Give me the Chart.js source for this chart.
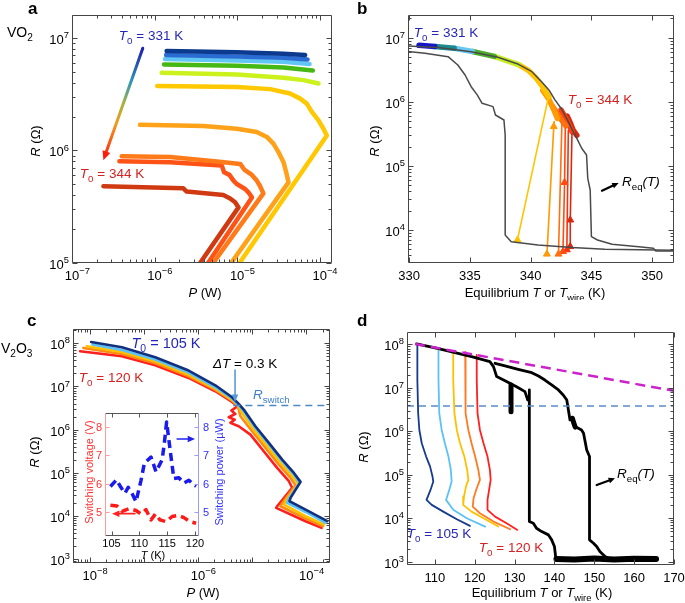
<!DOCTYPE html>
<html>
<head>
<meta charset="utf-8">
<script src="https://cdn.jsdelivr.net/npm/chart.js@4.4.1/dist/chart.umd.min.js"></script>
<style>
  body { margin: 0; background: #fff; width: 685px; height: 603px; overflow: hidden; position: relative; }
  canvas { position: absolute; }
</style>
</head>
<body>
<canvas id="ca" width="342" height="300" style="left:0;top:0"></canvas>
<canvas id="cb" width="343" height="300" style="left:342px;top:0"></canvas>
<canvas id="cc" width="342" height="303" style="left:0;top:300px"></canvas>
<canvas id="cd" width="343" height="303" style="left:342px;top:300px"></canvas>
<canvas id="ci" width="150" height="162" style="left:78px;top:405px"></canvas>
<script>
const FONT = '"Liberation Sans", Arial, Helvetica, sans-serif';
const BLUE_TXT = '#2626b8';
const RED_TXT = '#d42222';

// ---------- a: VO2, R vs P, T0 = 331 K ... 344 K ----------
const aXTicks = [1e-7, 1e-6, 1e-5, 1e-4];
const aYTicks = [1e5, 1e6, 1e7];
const aColors = ['#0c3a8e', '#2b6cd2', '#62c6f4', '#46b814', '#cbf21c', '#ffc800', '#ffa21a', '#ff7a18', '#ff5216', '#d03a12'];
const aP1 = [1.40e-6, 9.9e-6, 3.65e-5, 6.67e-5];
const aR1 = [7.66e6, 7.45e6, 7.25e6, 7.05e6];
const aP2 = [1.38e-6, 9.9e-6, 3.65e-5, 7.13e-5];
const aR2 = [7.05e6, 6.86e6, 6.67e6, 6.45e6];
const aP3 = [1.34e-6, 9.9e-6, 3.65e-5, 7.53e-5];
const aR3 = [6.49e6, 6.31e6, 6.15e6, 5.86e6];
const aP4 = [1.30e-6, 9.9e-6, 3.65e-5, 8.26e-5];
const aR4 = [5.82e6, 5.66e6, 5.47e6, 5.14e6];
const aP5 = [1.22e-6, 9.9e-6, 3.65e-5, 6.37e-5, 9.68e-5];
const aR5 = [4.90e6, 4.74e6, 4.43e6, 4.22e6, 3.94e6];
const aP6 = [1.08e-6, 9.9e-6, 2.51e-5, 4.38e-5, 5.81e-5, 6.98e-5, 8.04e-5, 9.68e-5, 1.11e-4, 1.22e-4, 1.04e-5];
const aR6 = [3.75e6, 3.67e6, 3.51e6, 3.21e6, 2.89e6, 2.61e6, 2.20e6, 1.85e6, 1.56e6, 1.36e6, 9.7e4];
const aP7 = [6.67e-7, 3.91e-6, 9.9e-6, 1.73e-5, 2.29e-5, 2.75e-5, 3.17e-5, 3.65e-5, 3.93e-5, 4.19e-5, 8.22e-6];
const aR7 = [1.69e6, 1.65e6, 1.56e6, 1.46e6, 1.32e6, 1.15e6, 9.67e5, 7.87e5, 6.41e5, 5.21e5, 9.7e4];
const aP8 = [4.0e-7, 1.54e-6, 5.68e-6, 1.09e-5, 1.22e-5, 1.51e-5, 1.73e-5, 1.90e-5, 2.08e-5, 4.98e-6];
const aR8 = [8.89e5, 8.77e5, 7.97e5, 7.60e5, 6.77e5, 6.06e5, 5.40e5, 4.81e5, 4.16e5, 9.7e4];
const aP9 = [3.75e-7, 1.54e-6, 6.52e-6, 6.95e-6, 8.07e-6, 9.04e-6, 9.9e-6, 1.25e-5, 1.37e-5, 1.51e-5, 4.32e-6];
const aR9 = [8.03e5, 7.87e5, 7.35e5, 6.41e5, 6.07e5, 5.40e5, 5.04e5, 4.55e5, 4.25e5, 3.83e5, 9.7e4];
const aP10 = [2.40e-7, 2.23e-6, 2.45e-6, 6.82e-6, 8.22e-6, 9.46e-6, 1.04e-5, 3.46e-6];
const aR10 = [4.81e5, 4.61e5, 4.31e5, 4.02e5, 3.75e5, 3.46e5, 3.12e5, 9.7e4];
const aArrowP = [7.2e-7, 2.4e-7];
const aArrowR = [8.1e6, 8.2e5];

// ---------- b: VO2, R vs equilibrium T ----------
const bXTicks = [330, 335, 340, 345, 350];
const bYTicks = [1e4, 1e5, 1e6, 1e7];
const bUpT = [329.6, 332.4, 335.1, 337.3, 339.0, 340.1, 340.9, 341.5, 342.0, 342.6, 343.1, 343.5, 343.8, 344.2, 344.6, 344.7, 344.9, 345.0, 345.5, 346.7, 348.9, 350.1, 350.3, 351.9];
const bUpR = [7.50e6, 7.06e6, 6.05e6, 4.94e6, 3.84e6, 2.95e6, 2.06e6, 1.53e6, 1.07e6, 7.45e5, 4.90e5, 3.42e5, 2.69e5, 1.88e5, 1.48e5, 6.40e4, 4.2e4, 7.87e3, 6.97e3, 5.97e3, 5.49e3, 5.17e3, 4.70e3, 4.70e3];
const bLoT = [329.6, 331.3, 333.2, 334.0, 334.6, 335.1, 335.6, 336.0, 336.9, 337.1, 337.8, 337.9, 337.9, 338.4, 340.6, 343.4, 346.1, 351.9];
const bLoR = [6.19e6, 5.70e6, 5.06e6, 3.75e6, 2.62e6, 1.72e6, 1.28e6, 9.46e5, 8.40e5, 6.22e5, 5.20e5, 3.03e5, 8.36e3, 6.57e3, 5.83e3, 5.30e3, 4.99e3, 4.81e3];
const bSegColors = ['#1616c8', '#1a8a8e', '#68c8f2', '#4aae28', '#c6ee1e', '#ffc400', '#ff9a00', '#ff7010', '#ff4010', '#d82810'];
const bSegT = [[330.8, 332.1], [332.1, 333.7], [333.7, 335.2], [335.2, 337.0], [337.0, 339.0], [339.0, 339.8, 340.4, 341.0, 341.5],
  [341.0, 341.5, 341.9, 342.2], [341.8, 342.2, 342.6, 342.9], [342.5, 342.9, 343.2, 343.4], [343.0, 343.3, 343.5, 343.8]];
const bSegR = [[7.6e6, 7.3e6], [7.3e6, 6.85e6], [6.85e6, 6.1e6], [6.1e6, 5.1e6], [5.1e6, 3.8e6], [3.8e6, 3.1e6, 2.4e6, 1.7e6, 1.2e6],
  [1.5e6, 1.1e6, 7.5e5, 5.5e5], [8.5e5, 6.5e5, 5.0e5, 4.2e5], [7.5e5, 5.5e5, 4.2e5, 3.4e5], [6.0e5, 4.5e5, 3.6e5, 3.0e5]];
const bDropColors = ['#ffc400', '#ff9a00', '#ff7010', '#ff4a10', '#f03410', '#d82810'];
const bDropT = [[341.47, 338.91], [341.94, 341.9, 341.34], [342.57, 342.29], [342.85, 342.79, 342.66], [343.1, 342.98], [343.4, 343.26, 343.26]];
const bDropR = [[1.2e6, 7.0e3], [4.9e5, 4.1e5, 4.2e3], [4.6e5, 4.2e3], [3.86e5, 5.5e4, 4.6e3], [3.6e5, 4.9e3], [3.2e5, 1.43e4, 5.5e3]];
const bArrowT = [345.87, 347.24];
const bArrowR = [4.1e4, 5.4e4];

// ---------- c: V2O3, R vs P, T0 = 105 K ... 120 K ----------
const cXTicks = [1e-8, 1e-6, 1e-4];
const cYTicks = [1e3, 1e4, 1e5, 1e6, 1e7, 1e8];
const cColors = ['#13307f', '#5cc2f5', '#ffc000', '#ff8a10', '#ff1e1e'];
const cP1 = [1.06e-8, 3.92e-8, 1.62e-7, 6.71e-7, 2.09e-6, 4.26e-6, 5.66e-6, 7.01e-6, 1.15e-5, 2.04e-5, 3.60e-5, 5.92e-5, 7.86e-5, 5.13e-5, 4.91e-5, 9.73e-5, 2.45e-4];
const cR1 = [1.07e8, 8.07e7, 4.74e7, 2.33e7, 1.06e7, 5.61e6, 3.93e6, 2.90e6, 1.19e6, 4.90e5, 2.01e5, 9.89e4, 6.12e4, 2.61e4, 2.18e4, 1.40e4, 7.50e3];
const cP2 = [1.12e-8, 3.92e-8, 1.62e-7, 6.71e-7, 2.09e-6, 4.26e-6, 5.51e-6, 7.01e-6, 1.15e-5, 2.04e-5, 3.60e-5, 5.92e-5, 7.53e-5, 4.64e-5, 4.45e-5, 9.73e-5, 2.28e-4];
const cR2 = [9.31e7, 7.01e7, 4.18e7, 2.09e7, 9.56e6, 5.23e6, 3.79e6, 2.66e6, 1.09e6, 4.49e5, 1.84e5, 9.05e4, 5.80e4, 2.38e4, 1.99e4, 1.23e4, 6.86e3];
const cP3 = [8.80e-9, 3.92e-8, 1.62e-7, 6.71e-7, 2.09e-6, 4.26e-6, 5.43e-6, 6.53e-6, 1.07e-5, 1.90e-5, 3.35e-5, 5.51e-5, 7.11e-5, 4.14e-5, 3.92e-5, 9.73e-5, 2.12e-4];
const cR3 = [8.51e7, 6.30e7, 3.83e7, 1.88e7, 8.90e6, 4.95e6, 3.66e6, 2.43e6, 9.98e5, 4.10e5, 1.69e5, 8.28e4, 5.50e4, 2.18e4, 1.82e4, 9.79e3, 6.28e3];
const cP4 = [7.63e-9, 3.92e-8, 1.62e-7, 6.71e-7, 2.09e-6, 4.26e-6, 5.43e-6, 6.08e-6, 1.00e-5, 1.77e-5, 3.12e-5, 5.13e-5, 6.34e-5, 3.60e-5, 3.35e-5, 9.73e-5, 2.04e-4];
const cR4 = [7.80e7, 5.66e7, 3.44e7, 1.72e7, 8.29e6, 4.69e6, 3.53e6, 2.03e6, 9.14e5, 3.75e5, 1.54e5, 7.57e4, 5.12e4, 1.99e4, 1.67e4, 8.65e3, 5.74e3];
const cP5 = [6.62e-9, 3.92e-8, 1.62e-7, 6.71e-7, 2.09e-6, 4.26e-6, 5.35e-6, 4.14e-6, 4.91e-6, 3.70e-6, 4.78e-6, 3.97e-6, 5.66e-6, 9.31e-6, 1.64e-5, 2.90e-5, 4.78e-5, 5.51e-5, 2.90e-5, 2.78e-5, 9.73e-5, 1.92e-4];
const cR5 = [6.53e7, 5.00e7, 3.09e7, 1.57e7, 7.72e6, 4.37e6, 3.47e6, 2.75e6, 2.30e6, 1.93e6, 1.70e6, 1.43e6, 1.19e6, 7.64e5, 3.14e5, 1.29e5, 6.34e4, 4.44e4, 1.67e4, 1.53e4, 7.50e3, 5.25e3];
const cSwitchP = [4.5e-6, 3e-4];
const cSwitchR = [3.6e6, 3.6e6];
const cArrowP = [4.84e-6, 4.84e-6];
const cArrowR = [2.4e7, 4.4e6];

// inset of c: switching voltage (V) and switching power (uW) vs T (K)
const iXTicks = [105, 110, 115, 120];
const iYTicks = [5, 6, 7, 8];
const iPowT = [104.8, 105.9, 106.6, 107.4, 108.0, 108.8, 109.4, 110.3, 110.9, 112.1, 113.0, 114.1, 114.5, 114.9, 115.6, 116.2, 117.1, 118.0, 118.9, 119.8, 120.2];
const iPow = [5.90, 6.14, 5.90, 5.66, 5.87, 5.61, 5.36, 6.12, 6.72, 6.94, 6.42, 6.85, 7.45, 8.18, 7.09, 6.18, 6.21, 6.02, 6.12, 5.97, 5.91];
const iVoltT = [104.8, 106.0, 106.9, 108.2, 109.4, 110.3, 111.2, 112.1, 112.9, 113.7, 114.8, 115.9, 117.1, 118.0, 119.1, 120.2];
const iVolt = [5.24, 5.21, 5.02, 5.12, 5.05, 4.93, 5.08, 4.72, 4.93, 4.72, 4.66, 4.84, 4.88, 4.80, 4.66, 4.60];
const iArrowBlueT = [116.8, 120.0];
const iArrowBlueP = [7.58, 7.58];
const iArrowRedT = [109.2, 105.1];
const iArrowRedV = [4.94, 4.94];

// ---------- d: V2O3, R vs equilibrium T ----------
const dXTicks = [110, 120, 130, 140, 150, 160, 170];
const dYTicks = [1e3, 1e4, 1e5, 1e6, 1e7, 1e8];
const dColors = ['#163a8e', '#5cc2f5', '#ffc000', '#ff7a20', '#ff2020'];
const dT1 = [105.6, 105.6, 105.8, 106.1, 106.7, 107.8, 108.8, 109.4, 109.6, 108.9, 107.9, 109.2, 112.1, 115.5, 118.8];
const dR1 = [1.02e8, 1.51e7, 2.59e6, 1.07e6, 5.30e5, 2.62e5, 1.54e5, 9.08e4, 6.97e4, 4.48e4, 2.64e4, 2.03e4, 1.42e4, 9.49e3, 6.67e3];
const dT2 = [110.9, 110.9, 111.1, 111.7, 112.5, 113.4, 114.0, 114.2, 113.6, 112.8, 114.6, 118.0, 122.6];
const dR2 = [7.14e7, 1.51e7, 2.59e6, 1.07e6, 5.30e5, 2.62e5, 1.29e5, 6.97e4, 4.48e4, 2.64e4, 1.56e4, 1.00e4, 6.43e3];
const dT3 = [114.6, 114.6, 114.9, 115.5, 116.3, 117.4, 118.1, 118.4, 117.8, 117.3, 117.1, 119.2, 122.2, 125.9];
const dR3 = [6.43e7, 1.51e7, 2.59e6, 1.07e6, 5.30e5, 2.62e5, 1.29e5, 7.61e4, 5.35e4, 3.15e4, 2.03e4, 1.42e4, 1.00e4, 6.43e3];
const dT4 = [117.6, 117.6, 117.8, 118.4, 119.2, 120.1, 120.9, 121.3, 120.5, 119.7, 119.5, 121.3, 124.7, 128.9];
const dR4 = [6.66e7, 1.51e7, 2.59e6, 1.07e6, 5.30e5, 2.62e5, 1.29e5, 7.61e4, 4.90e4, 2.88e4, 1.85e4, 1.30e4, 8.38e3, 5.58e3];
const dT5 = [120.5, 120.5, 120.7, 121.3, 122.2, 123.2, 123.8, 124.0, 123.6, 123.2, 123.2, 125.1, 128.0, 130.7];
const dR5 = [5.69e7, 1.51e7, 2.59e6, 1.07e6, 5.30e5, 2.62e5, 1.29e5, 7.61e4, 4.48e4, 2.64e4, 1.56e4, 1.09e4, 7.67e3, 5.39e3];
const dCoolT = [105.4, 110.9, 119.2, 123.8, 124.7, 125.5, 127.6, 130.5, 132.6, 133.3, 133.7, 133.7, 133.7, 134.7, 135.5, 136.8, 138.5, 139.3, 140.0, 140.3, 141.0];
const dCoolR = [1.02e8, 7.94e7, 5.20e7, 4.00e7, 3.07e7, 1.81e7, 1.46e7, 1.06e7, 8.17e6, 5.25e6, 5.07e6, 8.91e6, 8.38e3, 7.67e3, 5.89e3, 4.93e3, 4.14e3, 3.18e3, 2.23e3, 1.31e3, 1.10e3];
const dHeatT = [125.1, 127.6, 130.9, 134.3, 136.0, 137.6, 139.3, 141.0, 142.2, 143.1, 143.5, 143.9, 144.7, 145.2, 146.0, 146.8, 147.3, 148.1, 148.8, 148.8, 149.8, 150.6, 151.4, 152.7, 154.4];
const dHeatR = [3.66e7, 3.18e7, 2.66e7, 2.23e7, 1.87e7, 1.51e7, 1.16e7, 8.91e6, 6.84e6, 5.25e6, 3.09e6, 1.82e6, 1.82e6, 1.28e6, 1.17e6, 1.07e6, 9.0e5, 3.72e5, 2.62e5, 3.18e3, 2.66e3, 2.23e3, 1.71e3, 1.31e3, 1.10e3];
const dFloorT = [140.5, 145.0, 150.0, 155.0, 160.0, 165.5];
const dFloorR = [1.15e3, 1.12e3, 1.18e3, 1.13e3, 1.17e3, 1.15e3];
const dBarT = [129.1, 129.1];
const dBarR = [1.16e7, 2.83e6];
const dBlobT = [144.5, 144.8, 145.2];
const dBlobR = [2.0e6, 1.6e6, 1.25e6];
const dFitT = [105, 170];
const dFitR = [1.02e8, 8.5e6];
const dSwitchT = [103, 170];
const dSwitchR = [3.8e6, 3.8e6];
const dArrowT = [150.6, 155.2];
const dArrowR = [5.8e4, 8.3e4];

// ---------- helpers ----------
function pts(xs, ys) { return xs.map((x, i) => ({ x: x, y: ys[i] })); }

function line(xs, ys, color, width, extra) {
  return Object.assign({
    data: pts(xs, ys), borderColor: color, backgroundColor: color, borderWidth: width,
    pointRadius: 0, fill: false, tension: 0, clip: 0,
    borderCapStyle: 'round', borderJoinStyle: 'round'
  }, extra || {});
}

// segs: [[text, flags]] flags: i italic, B bold, s subscript, u superscript
function rich(ctx, segs, x, y, size, color, align, rot) {
  ctx.save();
  ctx.translate(x, y);
  if (rot) ctx.rotate(rot);
  ctx.fillStyle = color;
  ctx.textBaseline = 'alphabetic';
  ctx.textAlign = 'left';
  const parts = segs.map(([t, f]) => {
    f = f || '';
    const small = f.includes('s') || f.includes('u');
    const s = small ? size * 0.72 : size;
    const font = (f.includes('i') ? 'italic ' : '') + (f.includes('B') ? 'bold ' : '') + s + 'px ' + FONT;
    ctx.font = font;
    return { t, font, w: ctx.measureText(t).width, dy: f.includes('s') ? size * 0.28 : f.includes('u') ? -size * 0.45 : 0 };
  });
  const W = parts.reduce((a, p) => a + p.w, 0);
  let cx = 0;
  if (align === 'center') cx = -W / 2;
  else if (align === 'right') cx = -W;
  else if (align === 'first') cx = -parts[0].w / 2;
  parts.forEach(p => { ctx.font = p.font; ctx.fillText(p.t, cx, p.dy); cx += p.w; });
  ctx.restore();
}

function arrow(ctx, x1, y1, x2, y2, stroke, fillCol, w, head) {
  const ang = Math.atan2(y2 - y1, x2 - x1);
  ctx.save();
  ctx.strokeStyle = stroke; ctx.fillStyle = fillCol; ctx.lineWidth = w; ctx.lineCap = 'round';
  ctx.beginPath();
  ctx.moveTo(x1, y1);
  ctx.lineTo(x2 - Math.cos(ang) * head * 0.7, y2 - Math.sin(ang) * head * 0.7);
  ctx.stroke();
  ctx.beginPath();
  ctx.moveTo(x2, y2);
  ctx.lineTo(x2 - head * Math.cos(ang - 0.42), y2 - head * Math.sin(ang - 0.42));
  ctx.lineTo(x2 - head * Math.cos(ang + 0.42), y2 - head * Math.sin(ang + 0.42));
  ctx.closePath();
  ctx.fill();
  ctx.restore();
}

function logMarks(min, max) {
  const maj = [], mnr = [];
  for (let n = Math.floor(Math.log10(min)); n <= Math.ceil(Math.log10(max)); n++) {
    for (let k = 1; k <= 9; k++) {
      const v = k * Math.pow(10, n);
      if (v >= min * 0.999 && v <= max * 1.001) (k === 1 ? maj : mnr).push(v);
    }
  }
  return { maj, mnr };
}

function expo(v) {
  const e = Math.round(Math.log10(v));
  return (e < 0 ? '\u2212' : '') + Math.abs(e);
}

function drawAxes(chart, xTicks, yTicks) {
  const { ctx, chartArea: a } = chart;
  const x = chart.scales.x, y = chart.scales.y;
  const xLog = x.type === 'logarithmic', yLog = y.type === 'logarithmic';
  const xm = xLog ? logMarks(x.min, x.max) : { maj: xTicks, mnr: [] };
  const ym = yLog ? logMarks(y.min, y.max) : { maj: yTicks, mnr: [] };
  const L = a.left + 0.5, R = a.right - 0.5, T = a.top + 0.5, B = a.bottom - 0.5;
  ctx.save();
  ctx.strokeStyle = '#454545';
  ctx.lineWidth = 1;
  ctx.beginPath();
  ctx.rect(L, T, R - L, B - T);
  const tx = (v, len) => { const p = Math.round(x.getPixelForValue(v)) + 0.5; ctx.moveTo(p, B); ctx.lineTo(p, B - len); ctx.moveTo(p, T); ctx.lineTo(p, T + len); };
  const ty = (v, len) => { const p = Math.round(y.getPixelForValue(v)) + 0.5; ctx.moveTo(L, p); ctx.lineTo(L + len, p); ctx.moveTo(R, p); ctx.lineTo(R - len, p); };
  xm.maj.forEach(v => tx(v, 5)); xm.mnr.forEach(v => tx(v, 3));
  ym.maj.forEach(v => ty(v, 5)); ym.mnr.forEach(v => ty(v, 3));
  ctx.stroke();
  ctx.restore();
  xTicks.forEach(v => {
    const p = x.getPixelForValue(v);
    if (xLog) rich(ctx, [['10'], [expo(v), 'u']], p, a.bottom + 17, 13, '#000', 'first');
    else rich(ctx, [[String(v)]], p, a.bottom + 17, 13, '#000', 'center');
  });
  yTicks.forEach(v => {
    const p = y.getPixelForValue(v);
    rich(ctx, [['10'], [expo(v), 'u']], a.left - 3, p + 6, 13, '#000', 'right');
  });
}

function sp(chart, xv, yv, yId) {
  return [chart.scales.x.getPixelForValue(xv), chart.scales[yId || 'y'].getPixelForValue(yv)];
}

function makeChart(id, datasets, xs, ys, pad, after, extraScales, before) {
  const scales = { x: Object.assign({ display: false }, xs), y: Object.assign({ display: false }, ys) };
  Object.assign(scales, extraScales || {});
  return new Chart(document.getElementById(id), {
    type: 'line',
    data: { datasets: datasets },
    options: {
      responsive: false, animation: false, events: [],
      layout: { padding: pad },
      plugins: { legend: { display: false }, tooltip: { enabled: false } },
      scales: scales
    },
    plugins: [{ id: 'deco_' + id, afterDraw: after, beforeDatasetsDraw: before || (() => {}) }]
  });
}

// ---------- panel a ----------
const aSeries = [[aP1, aR1], [aP2, aR2], [aP3, aR3], [aP4, aR4], [aP5, aR5], [aP6, aR6], [aP7, aR7], [aP8, aR8], [aP9, aR9], [aP10, aR10]];
makeChart('ca',
  aSeries.map((s, i) => line(s[0], s[1], aColors[i], 4.5)),
  { type: 'logarithmic', min: 1e-7, max: 1.41e-4 },
  { type: 'logarithmic', min: 1e5, max: 1.6e7 },
  { left: 72, top: 15, right: 10, bottom: 37 },
  function (chart) {
    const ctx = chart.ctx;
    drawAxes(chart, aXTicks, aYTicks);
    const [x1, y1] = sp(chart, aArrowP[0], aArrowR[0]);
    const [x2, y2] = sp(chart, aArrowP[1], aArrowR[1]);
    const g = ctx.createLinearGradient(x1, y1, x2, y2);
    g.addColorStop(0, '#1e1eb0'); g.addColorStop(0.3, '#2f96b8'); g.addColorStop(0.5, '#a9b43a');
    g.addColorStop(0.68, '#f29a20'); g.addColorStop(1, '#ff1a0a');
    arrow(ctx, x1, y1, x2, y2, g, '#ff1a0a', 3, 10);
    rich(ctx, [['a', 'B']], 28, 14, 17, '#000', 'left');
    rich(ctx, [['VO'], ['2', 's']], 7, 37, 14, '#000', 'left');
    rich(ctx, [['T', 'i'], ['0', 's'], [' = 331 K']], 151, 40, 13.5, BLUE_TXT, 'center');
    rich(ctx, [['T', 'i'], ['0', 's'], [' = 344 K']], 112, 178, 13.5, RED_TXT, 'center');
    rich(ctx, [['R', 'i'], [' (\u03a9)']], 40, 141, 13, '#000', 'center', -Math.PI / 2);
    rich(ctx, [['P', 'i'], [' (W)']], 205, 297, 13, '#000', 'center');
  });

// ---------- panel b ----------
const bSets = [line(bUpT, bUpR, '#4a4a4a', 1.5), line(bLoT, bLoR, '#4a4a4a', 1.5)];
bDropT.forEach((t, i) => {
  const r = t.map((_, k) => (k === 0 ? 0 : 4));
  bSets.push(line(t, bDropR[i], bDropColors[i], 1.6, {
    pointStyle: 'triangle', pointRadius: r, pointBackgroundColor: bDropColors[i], pointBorderColor: bDropColors[i], pointBorderWidth: 1
  }));
});
bSegT.forEach((t, i) => bSets.push(line(t, bSegR[i], bSegColors[i], 5.5)));
makeChart('cb', bSets,
  { type: 'linear', min: 329.9, max: 351.8 },
  { type: 'logarithmic', min: 3.05e3, max: 2.26e7 },
  { left: 66, top: 15, right: 11, bottom: 37 },
  function (chart) {
    const ctx = chart.ctx;
    drawAxes(chart, bXTicks, bYTicks);
    const [x1, y1] = sp(chart, bArrowT[0], bArrowR[0]);
    const [x2, y2] = sp(chart, bArrowT[1], bArrowR[1]);
    arrow(ctx, x1, y1, x2, y2, '#000', '#000', 2.2, 7);
    ctx.save(); ctx.translate(-342, 0);
    rich(ctx, [['b', 'B']], 357, 14, 17, '#000', 'left');
    rich(ctx, [['T', 'i'], ['0', 's'], [' = 331 K']], 446, 37, 13.5, BLUE_TXT, 'center');
    rich(ctx, [['T', 'i'], ['0', 's'], [' = 344 K']], 600, 104, 13.5, RED_TXT, 'center');
    rich(ctx, [['R', 'i'], ['eq', 's'], ['(T)', 'i']], 622, 186, 13.5, '#000', 'left');
    rich(ctx, [['R', 'i'], [' (\u03a9)']], 379, 141, 13, '#000', 'center', -Math.PI / 2);
    rich(ctx, [['Equilibrium '], ['T', 'i'], [' or '], ['T', 'i'], ['wire', 's'], [' (K)']], 535, 297, 13, '#000', 'center');
    ctx.restore();
  });

// ---------- panel c ----------
const cSeries = [[cP1, cR1], [cP2, cR2], [cP3, cR3], [cP4, cR4], [cP5, cR5]];
const cSets = [line(cSwitchP, cSwitchR, '#4f86c6', 1.5, { borderDash: [7, 5], borderCapStyle: 'butt' })];
cSeries.forEach((s, i) => cSets.push(line(s[0], s[1], cColors[i], 2.6)));
makeChart('cc', cSets,
  { type: 'logarithmic', min: 4.9e-9, max: 2.75e-4 },
  { type: 'logarithmic', min: 807, max: 2.14e8 },
  { left: 73, top: 29, right: 12, bottom: 40 },
  function (chart) {
    const ctx = chart.ctx;
    drawAxes(chart, cXTicks, cYTicks);
    const [x1, y1] = sp(chart, cArrowP[0], cArrowR[0]);
    const [x2, y2] = sp(chart, cArrowP[1], cArrowR[1]);
    arrow(ctx, x1, y1, x2, y2, '#5b9bd5', '#5b9bd5', 1.6, 8);
    ctx.save(); ctx.translate(0, -300);
    rich(ctx, [['c', 'B']], 27, 326, 17, '#000', 'left');
    rich(ctx, [['V'], ['2', 's'], ['O'], ['3', 's']], 1, 353, 14, '#000', 'left');
    rich(ctx, [['T', 'i'], ['0', 's'], [' = 105 K']], 166, 348, 14.5, BLUE_TXT, 'center');
    rich(ctx, [['T', 'i'], ['0', 's'], [' = 120 K']], 111, 382, 13.5, RED_TXT, 'center');
    rich(ctx, [['\u0394T', 'i'], [' = 0.3 K']], 213, 368, 13.5, '#000', 'left');
    rich(ctx, [['R', 'i'], ['switch', 's']], 253, 399, 13.5, '#3f7fc8', 'left');
    rich(ctx, [['R', 'i'], [' (\u03a9)']], 39, 452, 13, '#000', 'center', -Math.PI / 2);
    rich(ctx, [['P', 'i'], [' (W)']], 203, 597, 13, '#000', 'center');
    ctx.restore();
  });

// ---------- inset of c ----------
makeChart('ci',
  [line(iPowT, iPow, '#1a1aee', 3.5, { yAxisID: 'y', borderDash: [8, 5], borderCapStyle: 'butt' }),
   line(iVoltT, iVolt, '#ff1a1a', 3.5, { yAxisID: 'yv', borderDash: [8, 5], borderCapStyle: 'butt' })],
  { type: 'linear', min: 103.83, max: 120.72 },
  { type: 'linear', min: 4.15, max: 8.5 },
  { left: 27, top: 8, right: 29, bottom: 31 },
  function (chart) {
    const ctx = chart.ctx, a = chart.chartArea;
    const x = chart.scales.x, yp = chart.scales.y, yv = chart.scales.yv;
    const L = a.left + 0.5, R = a.right - 0.5, T = a.top + 0.5, B = a.bottom - 0.5;
    ctx.save();
    ctx.lineWidth = 1;
    ctx.strokeStyle = '#555';
    ctx.beginPath(); ctx.moveTo(L, T); ctx.lineTo(R, T); ctx.moveTo(L, B); ctx.lineTo(R, B);
    iXTicks.forEach(v => { const p = Math.round(x.getPixelForValue(v)) + 0.5; ctx.moveTo(p, B); ctx.lineTo(p, B - 4); ctx.moveTo(p, T); ctx.lineTo(p, T + 4); });
    ctx.stroke();
    ctx.strokeStyle = '#ff9a9a';
    ctx.beginPath(); ctx.moveTo(L, T); ctx.lineTo(L, B);
    iYTicks.forEach(v => { const p = Math.round(yv.getPixelForValue(v)) + 0.5; ctx.moveTo(L, p); ctx.lineTo(L + 4, p); });
    ctx.stroke();
    ctx.strokeStyle = '#9a9aff';
    ctx.beginPath(); ctx.moveTo(R, T); ctx.lineTo(R, B);
    iYTicks.forEach(v => { const p = Math.round(yp.getPixelForValue(v)) + 0.5; ctx.moveTo(R, p); ctx.lineTo(R - 4, p); });
    ctx.stroke();
    ctx.restore();
    iXTicks.forEach(v => rich(ctx, [[String(v)]], x.getPixelForValue(v), a.bottom + 11, 11, '#000', 'center'));
    iYTicks.forEach(v => rich(ctx, [[String(v)]], a.left - 3, yv.getPixelForValue(v) + 4, 11, '#ff3030', 'right'));
    iYTicks.forEach(v => rich(ctx, [[String(v)]], a.right + 4, yp.getPixelForValue(v) + 4, 11, '#3030ff', 'left'));
    let p1 = sp(chart, iArrowBlueT[0], iArrowBlueP[0]), p2 = sp(chart, iArrowBlueT[1], iArrowBlueP[1]);
    arrow(ctx, p1[0], p1[1], p2[0], p2[1], '#2222ee', '#2222ee', 1.6, 8);
    p1 = sp(chart, iArrowRedT[0], iArrowRedV[0], 'yv'); p2 = sp(chart, iArrowRedT[1], iArrowRedV[1], 'yv');
    arrow(ctx, p1[0], p1[1], p2[0], p2[1], '#ff2222', '#ff2222', 1.6, 8);
    ctx.save(); ctx.translate(-78, -405);
    rich(ctx, [['Switching voltage (V)']], 93, 472, 11, '#ff3030', 'center', -Math.PI / 2);
    rich(ctx, [['Switching power (\u00b5W)']], 223, 472, 11, '#3030ff', 'center', -Math.PI / 2);
    rich(ctx, [['T', 'i'], [' (K)']], 153, 559, 11, '#000', 'center');
    ctx.restore();
  },
  { yv: { display: false, axis: 'y', type: 'linear', min: 4.15, max: 8.5 } },
  function (chart) {
    const a = chart.chartArea, ctx = chart.ctx;
    ctx.save(); ctx.fillStyle = '#fff'; ctx.fillRect(a.left, a.top, a.right - a.left, a.bottom - a.top); ctx.restore();
  });

// ---------- panel d ----------
const dSets = [
  line(dFitT, dFitR, '#cc22cc', 2.5, { borderDash: [10, 6], borderCapStyle: 'butt' }),
  line(dSwitchT, dSwitchR, '#5b8cc8', 1.6, { borderDash: [7, 5], borderCapStyle: 'butt' }),
  line(dCoolT, dCoolR, '#000', 2.8),
  line(dHeatT, dHeatR, '#000', 2.8),
  line(dFloorT, dFloorR, '#000', 6),
  line(dBarT, dBarR, '#000', 5, { borderCapStyle: 'butt' }),
  line(dBlobT, dBlobR, '#000', 5)
];
[[dT1, dR1], [dT2, dR2], [dT3, dR3], [dT4, dR4], [dT5, dR5]].forEach((s, i) => dSets.push(line(s[0], s[1], dColors[i], 1.8)));
makeChart('cd', dSets,
  { type: 'linear', min: 103, max: 170 },
  { type: 'logarithmic', min: 840, max: 1.92e8 },
  { left: 65, top: 32, right: 11, bottom: 38 },
  function (chart) {
    const ctx = chart.ctx;
    drawAxes(chart, dXTicks, dYTicks);
    const [x1, y1] = sp(chart, dArrowT[0], dArrowR[0]);
    const [x2, y2] = sp(chart, dArrowT[1], dArrowR[1]);
    arrow(ctx, x1, y1, x2, y2, '#000', '#000', 2.2, 7);
    ctx.save(); ctx.translate(-342, -300);
    rich(ctx, [['d', 'B']], 357, 326, 17, '#000', 'left');
    rich(ctx, [['T', 'i'], ['0', 's'], [' = 105 K']], 439, 538, 13.5, BLUE_TXT, 'center');
    rich(ctx, [['T', 'i'], ['0', 's'], [' = 120 K']], 511, 552, 13.5, RED_TXT, 'center');
    rich(ctx, [['R', 'i'], ['eq', 's'], ['(T)', 'i']], 617, 478, 13.5, '#000', 'left');
    rich(ctx, [['R', 'i'], [' (\u03a9)']], 368, 447, 13, '#000', 'center', -Math.PI / 2);
    rich(ctx, [['Equilibrium '], ['T', 'i'], [' or '], ['T', 'i'], ['wire', 's'], [' (K)']], 542, 597, 13, '#000', 'center');
    ctx.restore();
  });
</script>
</body>
</html>
